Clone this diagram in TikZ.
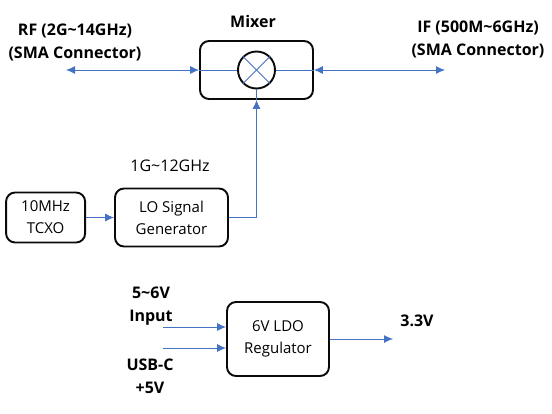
\documentclass[tikz,border=0pt]{standalone}
\usepackage{fontspec}
\setmainfont{Open Sans}
\usetikzlibrary{arrows.meta, positioning, calc}
\definecolor{WireBlue}{RGB}{68, 114, 196}
\definecolor{BoxBlack}{RGB}{10, 10, 10}
\begin{document}
\begin{tikzpicture}[
            x=1pt, y=-1pt,
            box/.style={draw=BoxBlack, line width=1.9pt, fill=white, rounded corners=9pt, align=center, font=\fontsize{15}{22}\selectfont, inner sep=0pt},
            mixcircle/.style={draw=BoxBlack, line width=1.9pt, circle, minimum size=37pt, inner sep=0pt},
            label/.style={align=center, font=\fontsize{16}{23}\selectfont\bfseries, inner sep=0pt},
            plain/.style={align=center, font=\fontsize{16}{23}\selectfont, inner sep=0pt},
            wire/.style={line width=0.9pt, WireBlue},
            arrow/.style={wire, -{Latex[length=9pt, width=8pt]}},
            twoway/.style={wire, {Latex[length=9pt, width=8pt]}-{Latex[length=9pt, width=8pt]}}
        ]
            \useasboundingbox (0,0) rectangle (552,413);
            \node[box, minimum width=113pt, minimum height=58pt] (mixer) at (256.5,70) {};
            \node[mixcircle] (mix) at (mixer.center) {};
            \node[box, minimum width=113pt, minimum height=58pt] (lo) at (171.5,217.5) {LO Signal\\Generator};
            \node[box, minimum width=79pt, minimum height=50pt, left=28pt of lo] (tcxo) {10MHz\\TCXO};
            \node[box, minimum width=102pt, minimum height=74pt] (ldo) at (278,339) {6V LDO\\Regulator};

            \node[label] (rflabel) at (75,42.5) {RF (2G\textasciitilde14GHz)\\(SMA Connector)};
            \node[label] (iflabel) at (478,39.5) {IF (500M\textasciitilde6GHz)\\(SMA Connector)};
            \node[label] (mixerlabel) at (253,21) {Mixer};
            \node[plain] (lofreq) at (170,166) {1G\textasciitilde12GHz};
            \node[label] (inputlabel) at (151,306.5) {5\textasciitilde6V\\Input};
            \node[label] (usblabel) at (150,376.5) {USB-C\\+5V};
            \node[label] (outlabel) at (417,321) {3.3V};

            \coordinate (rfend) at (66,70);
            \coordinate (ifend) at (445,70);
            \coordinate (inputend) at (163,327);
            \coordinate (usbend) at (163,348);
            \coordinate (outend) at (393,339);

            % cross inside the mixer circle
            \draw[wire] (mix.45) -- (mix.225);
            \draw[wire] (mix.135) -- (mix.315);

            \draw[twoway] (rfend) -- (mixer.west);
            \draw[wire] (mixer.west) -- (mix.west);
            \draw[twoway] (mixer.east) -- (ifend);
            \draw[wire] (mix.east) -- (mixer.east);
            \draw[arrow] (tcxo) -- (lo);
            \draw[arrow] (lo.east) -| (mixer.south);
            \draw[wire] (mixer.south) -- (mix.south);
            \draw[arrow] (inputend) -- (inputend -| ldo.west);
            \draw[arrow] (usbend) -- (usbend -| ldo.west);
            \draw[arrow] (ldo.east) -- (outend);
        \end{tikzpicture}
\end{document}
